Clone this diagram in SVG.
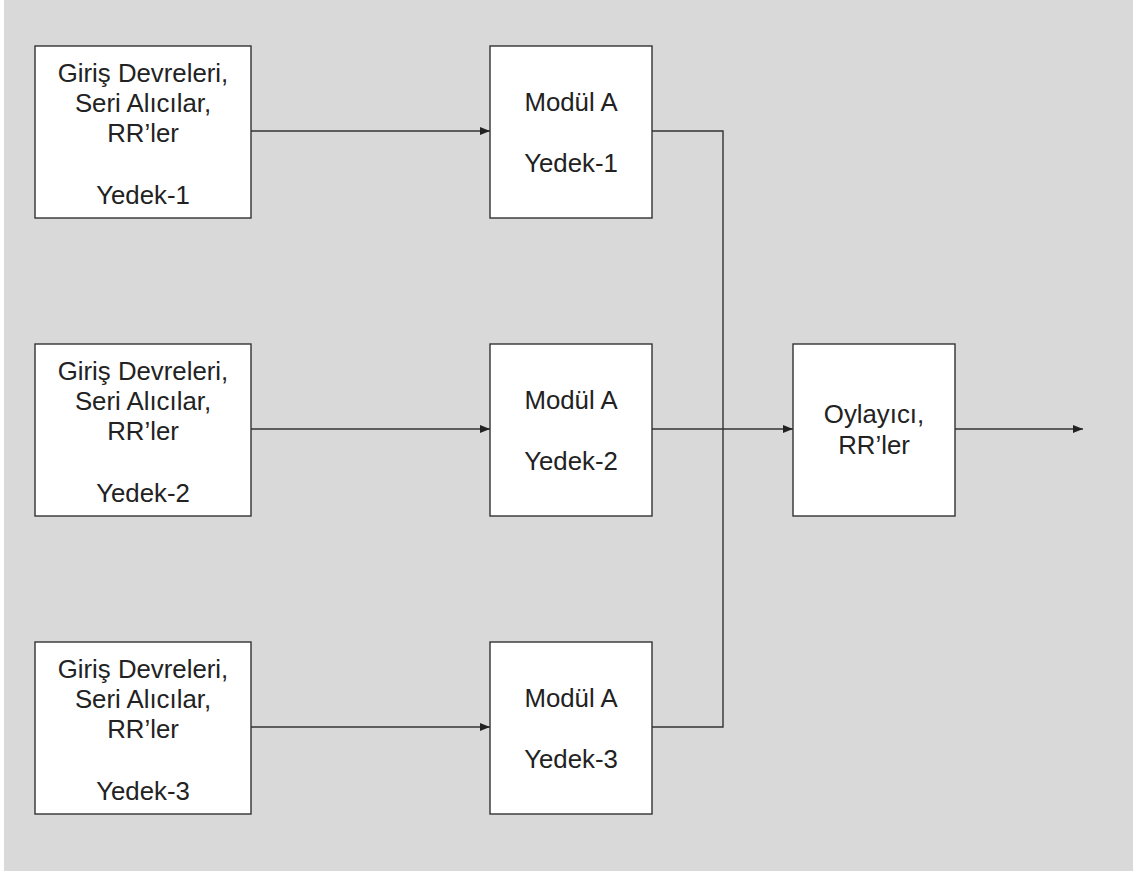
<svg xmlns="http://www.w3.org/2000/svg" width="1133" height="874" viewBox="0 0 1133 874">
  <style>
    .box { fill: #ffffff; stroke: #333333; stroke-width: 1.4; }
    .lbl { font-family: "Liberation Sans", Arial, sans-serif; font-size: 25.8px; fill: #222222; text-anchor: middle; }
    .wire { fill: none; stroke: #333333; stroke-width: 1.4; }
  </style>
  <defs>
    <marker id="arrow" viewBox="0 0 10 8" refX="10" refY="4" markerWidth="10" markerHeight="8" markerUnits="userSpaceOnUse" orient="auto">
      <path d="M0,0 L10,4 L0,8 Z" fill="#222222"/>
    </marker>
  </defs>

  <rect x="0" y="0" width="1133" height="874" fill="#ffffff"/>
  <rect x="4" y="0" width="1129" height="871" fill="#d9d9d9"/>

  <g id="connectors">
    <line class="wire" x1="251" y1="131" x2="490" y2="131" marker-end="url(#arrow)"/>
    <line class="wire" x1="251" y1="429" x2="490" y2="429" marker-end="url(#arrow)"/>
    <line class="wire" x1="251" y1="727" x2="490" y2="727" marker-end="url(#arrow)"/>
    <polyline class="wire" points="652,131 723,131 723,727 652,727"/>
    <line class="wire" x1="652" y1="429" x2="793" y2="429" marker-end="url(#arrow)"/>
    <line class="wire" x1="955" y1="429" x2="1083" y2="429" marker-end="url(#arrow)"/>
  </g>

  <g id="input-1">
    <rect class="box" x="35" y="46" width="216" height="172"/>
    <text class="lbl" x="143" y="82">Giriş Devreleri,</text>
    <text class="lbl" x="143" y="112">Seri Alıcılar,</text>
    <text class="lbl" x="143" y="142">RR’ler</text>
    <text class="lbl" x="143" y="204">Yedek-1</text>
  </g>
  <g id="input-2">
    <rect class="box" x="35" y="344" width="216" height="172"/>
    <text class="lbl" x="143" y="380">Giriş Devreleri,</text>
    <text class="lbl" x="143" y="410">Seri Alıcılar,</text>
    <text class="lbl" x="143" y="440">RR’ler</text>
    <text class="lbl" x="143" y="502">Yedek-2</text>
  </g>
  <g id="input-3">
    <rect class="box" x="35" y="642" width="216" height="172"/>
    <text class="lbl" x="143" y="678">Giriş Devreleri,</text>
    <text class="lbl" x="143" y="708">Seri Alıcılar,</text>
    <text class="lbl" x="143" y="738">RR’ler</text>
    <text class="lbl" x="143" y="800">Yedek-3</text>
  </g>

  <g id="module-1">
    <rect class="box" x="490" y="46" width="162" height="172"/>
    <text class="lbl" x="571" y="111">Modül A</text>
    <text class="lbl" x="571" y="172">Yedek-1</text>
  </g>
  <g id="module-2">
    <rect class="box" x="490" y="344" width="162" height="172"/>
    <text class="lbl" x="571" y="409">Modül A</text>
    <text class="lbl" x="571" y="470">Yedek-2</text>
  </g>
  <g id="module-3">
    <rect class="box" x="490" y="642" width="162" height="172"/>
    <text class="lbl" x="571" y="707">Modül A</text>
    <text class="lbl" x="571" y="768">Yedek-3</text>
  </g>

  <g id="voter">
    <rect class="box" x="793" y="344" width="162" height="172"/>
    <text class="lbl" x="874" y="423">Oylayıcı,</text>
    <text class="lbl" x="874" y="454">RR’ler</text>
  </g>
</svg>
